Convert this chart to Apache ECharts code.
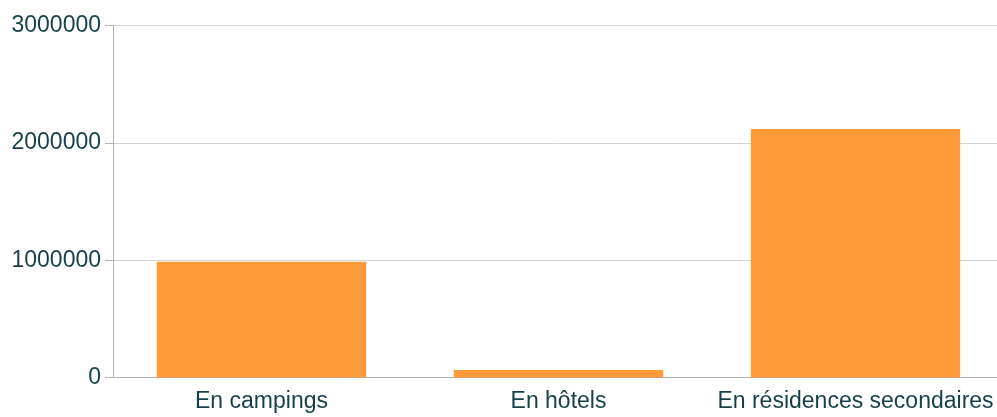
<!DOCTYPE html>
<html>
<head>
<meta charset="utf-8">
<script src="https://cdn.jsdelivr.net/npm/echarts@6/dist/echarts.min.js"></script>
<style>
  html, body { margin: 0; padding: 0; background: #fff; }
  #chart { width: 997px; height: 417px; }
</style>
</head>
<body>
<div id="chart"></div>
<script type="text/javascript">
    var categories = ['En campings', 'En hôtels', 'En résidences secondaires'];
    var values = [987000, 64000, 2118000];
    var yTicks = [0, 1000000, 2000000, 3000000];

    var textColor = '#173f4a';
    var chart = echarts.init(document.getElementById('chart'));
    var option = {
        animation: false,
        grid: {
            left: 113, width: 891, top: 25.5, bottom: 39.5,
            containLabel: false,
            outerBoundsMode: 'none'
        },
        xAxis: {
            type: 'category',
            data: categories,
            axisLine: { lineStyle: { color: '#b3b3b3', width: 1 } },
            axisTick: { show: false },
            axisLabel: {
                color: textColor,
                fontFamily: 'Liberation Sans',
                fontSize: 23,
                interval: 0,
                hideOverlap: false,
                margin: 13
            }
        },
        yAxis: {
            type: 'value',
            min: yTicks[0],
            max: yTicks[yTicks.length - 1],
            interval: 1000000,
            axisLine: { show: true, lineStyle: { color: '#b3b3b3' } },
            axisTick: { show: true, inside: false, length: 8, lineStyle: { color: '#b3b3b3' } },
            splitLine: { lineStyle: { color: '#d4d4d4' } },
            axisLabel: {
                color: textColor,
                fontFamily: 'Liberation Sans',
                fontSize: 23,
                margin: 12,
                formatter: function (v) { return String(v); }
            }
        },
        series: [{
            type: 'bar',
            data: values,
            barWidth: '70.5%',
            itemStyle: { color: '#fe9a37' }
        }]
    };
    chart.setOption(option);
</script>
</body>
</html>
